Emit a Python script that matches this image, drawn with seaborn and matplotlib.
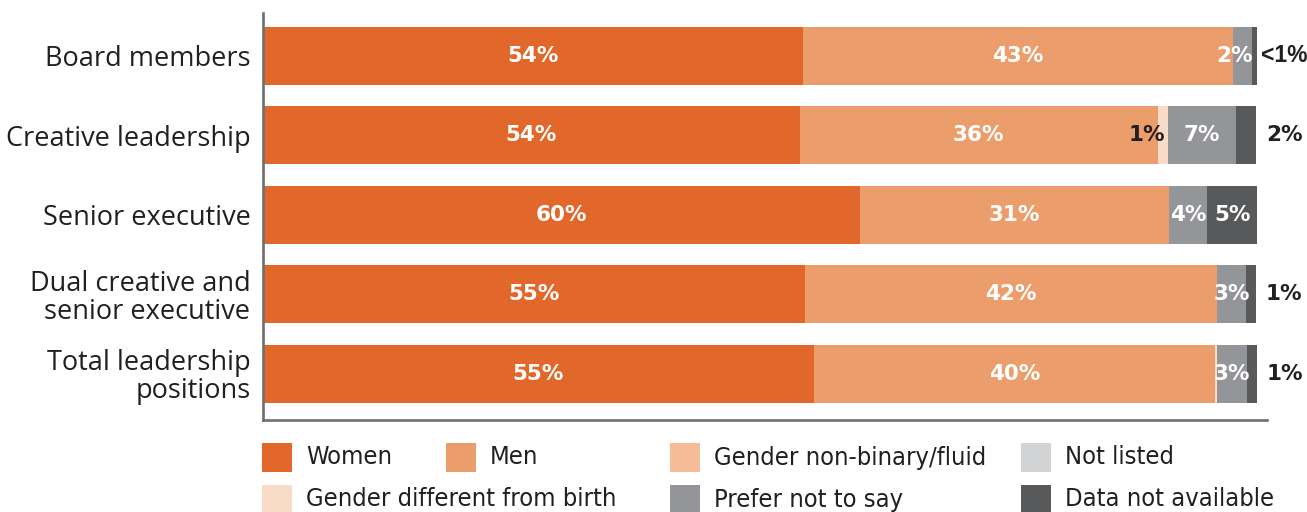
import matplotlib
matplotlib.use("Agg")
import matplotlib.pyplot as plt
from matplotlib.patches import Rectangle
import numpy as np
import pandas as pd
import seaborn as sns

# ---- data -------------------------------------------------------------
roles = [
    "Board members",
    "Creative leadership",
    "Senior executive",
    "Dual creative and\nsenior executive",
    "Total leadership\npositions",
]
women = [54.3, 54.0, 60.1, 54.5, 55.4]
men = [43.3, 36.0, 31.0, 41.5, 40.4]
non_binary = [0.0, 0.0, 0.0, 0.0, 0.0]
not_listed = [0.0, 0.0, 0.0, 0.0, 0.0]
different_from_birth = [0.0, 1.0, 0.0, 0.0, 0.2]
prefer_not = [1.9, 6.9, 3.9, 2.9, 3.0]
not_available = [0.5, 2.0, 5.0, 1.0, 1.0]

series_names = [
    "Women",
    "Men",
    "Gender non-binary/fluid",
    "Not listed",
    "Gender different from birth",
    "Prefer not to say",
    "Data not available",
]
series_values = [women, men, non_binary, not_listed,
                 different_from_birth, prefer_not, not_available]
colors = {
    "Women": "#E1682A",
    "Men": "#EB9E6C",
    "Gender non-binary/fluid": "#F4BD97",
    "Not listed": "#D1D3D4",
    "Gender different from birth": "#F9DCC8",
    "Prefer not to say": "#939598",
    "Data not available": "#58595B",
}

# ---- styling ----------------------------------------------------------
sns.set_theme(style="white")
plt.rcParams["font.family"] = ["Open Sans", "DejaVu Sans"]
TEXT = "#231F20"
SPINE = "#6D6E71"

W, H = 1307, 512
fig = plt.figure(figsize=(W / 100, H / 100), dpi=100)
ax = fig.add_axes([263 / W, 1 - 420 / H, (1267 - 263) / W, 407 / H])

# cumulative stacks, drawn from the outermost segment inwards
vals = np.array(series_values)
cum = np.cumsum(vals, axis=0)
for i in range(len(series_names) - 1, -1, -1):
    df = pd.DataFrame({"role": roles, "value": cum[i]})
    sns.barplot(data=df, x="value", y="role", orient="h", ax=ax,
                color=colors[series_names[i]], width=0.73,
                linewidth=0, saturation=1, errorbar=None)


def pct(v):
    return f"{int(np.floor(v + 0.5))}%"


bold = dict(fontsize=15.5, fontweight="bold", va="center",
            family=["DejaVu Sans"])

for r in range(len(roles)):
    starts = np.concatenate([[0], cum[:-1, r]])
    for i, name in enumerate(series_names):
        v = vals[i, r]
        if v <= 0:
            continue
        mid = starts[i] + v / 2
        end = starts[i] + v
        if name in ("Women", "Men"):
            ax.text(mid, r, pct(v), ha="center", color="white", **bold)
        elif name == "Prefer not to say":
            if v < 2.5:
                ax.text(end + 0.1, r, pct(v), ha="right", color="white", **bold)
            else:
                ax.text(mid, r, pct(v), ha="center", color="white", **bold)
        elif name == "Gender different from birth":
            if v >= 0.5:
                ax.text(end - 0.25, r, pct(v), ha="right", color=TEXT, **bold)
        elif name == "Data not available":
            if v >= 4:
                ax.text(mid, r, pct(v), ha="center", color="white", **bold)
            elif v < 1:
                # narrower face so the label stays inside the canvas
                ax.annotate("<1%", xy=(end, r), xytext=(3, 0),
                            textcoords="offset points", ha="left",
                            color=TEXT,
                            **{**bold, "fontsize": 16.5,
                               "family": ["Liberation Sans", "DejaVu Sans"]})
            else:
                ax.annotate(pct(v), xy=(end, r), xytext=(7, 0),
                            textcoords="offset points", ha="left",
                            color=TEXT, **bold)

ax.set_xlim(0, 101)
ax.set_ylim(4.58, -0.54)
ax.set_xlabel("")
ax.set_ylabel("")
ax.set_xticks([])
ax.tick_params(axis="y", length=0, pad=9, labelsize=19.5, labelcolor=TEXT)
for lab in ax.get_yticklabels():
    lab.set_linespacing(1.0)
for side in ("top", "right"):
    ax.spines[side].set_visible(False)
for side in ("left", "bottom"):
    ax.spines[side].set_color(SPINE)
    ax.spines[side].set_linewidth(1.9)

# ---- legend -----------------------------------------------------------
legend_slots = {
    "Women": (262, 443),
    "Men": (446, 443),
    "Gender non-binary/fluid": (670, 443),
    "Not listed": (1021, 443),
    "Gender different from birth": (262, 485),
    "Prefer not to say": (670, 485),
    "Data not available": (1021, 485),
}
sq_w, sq_h = 30, 29
for name, (px, py) in legend_slots.items():
    fig.add_artist(Rectangle((px / W, 1 - (py + sq_h) / H), sq_w / W, sq_h / H,
                             transform=fig.transFigure,
                             facecolor=colors[name], edgecolor="none"))
    fig.text((px + 44) / W, 1 - (py + sq_h / 2) / H, name,
             fontsize=18.3, color=TEXT, va="center", ha="left",
             family=["DejaVu Sans"], fontstretch="condensed")

fig.savefig("out.png", dpi=100, facecolor="white")
